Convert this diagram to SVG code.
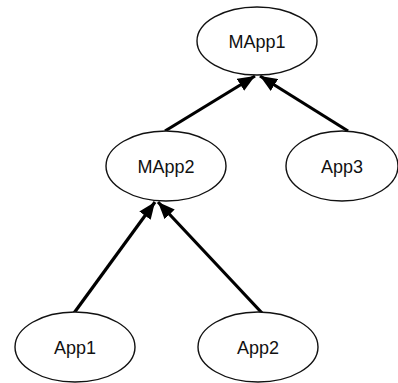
<svg xmlns="http://www.w3.org/2000/svg" width="398" height="383" viewBox="0 0 398 383">
  <style>
    .node ellipse { fill: #ffffff; stroke: #111111; stroke-width: 1.4; }
    .node text { font-family: "Liberation Sans", Arial, sans-serif; font-size: 18px; fill: #111111; text-anchor: middle; }
    .edge { stroke: #000000; stroke-width: 3.2; fill: none; marker-end: url(#head); }
  </style>
  <defs>
    <marker id="head" markerUnits="userSpaceOnUse" markerWidth="18" markerHeight="14" refX="17" refY="7" orient="auto">
      <path d="M0,0 L17,7 L0,14 Z" fill="#000000"/>
    </marker>
  </defs>

  <rect width="398" height="383" fill="#ffffff"/>

  <!-- connectors: child to parent -->
  <g id="connectors">
    <path class="edge" d="M165,131 L255,76"/>
    <path class="edge" d="M348,131 L260,76"/>
    <path class="edge" d="M74,313 L155,202"/>
    <path class="edge" d="M262,313 L158,202"/>
  </g>

  <g id="MApp1" class="node">
    <ellipse cx="257" cy="41" rx="60" ry="34"/>
    <text x="257" y="47.5">MApp1</text>
  </g>
  <g id="MApp2" class="node">
    <ellipse cx="166" cy="166" rx="60" ry="35"/>
    <text x="166" y="172.5">MApp2</text>
  </g>
  <g id="App3" class="node">
    <ellipse cx="342" cy="166" rx="56" ry="35"/>
    <text x="342" y="172.5">App3</text>
  </g>
  <g id="App1" class="node">
    <ellipse cx="75" cy="347" rx="60" ry="35"/>
    <text x="75" y="353.5">App1</text>
  </g>
  <g id="App2" class="node">
    <ellipse cx="258" cy="347" rx="60" ry="35"/>
    <text x="258" y="353.5">App2</text>
  </g>
</svg>
